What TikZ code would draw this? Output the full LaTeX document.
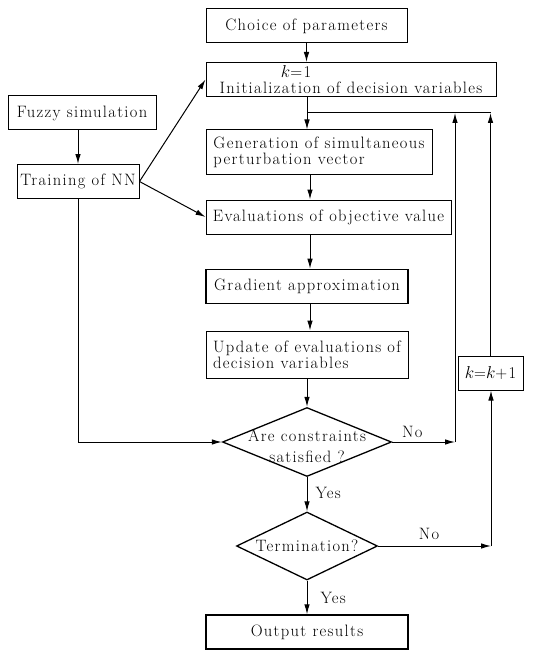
\documentclass[tikz,border=0pt]{standalone}
\usepackage{fontspec}
\usepackage{tikz}
\usetikzlibrary{positioning,shapes.geometric,arrows.meta}

\newfontfamily\flowfont{Latin Modern Roman}[LetterSpace=8]

\begin{document}
\begin{tikzpicture}[
    x=1pt, y=-1pt,
    every node/.style={font=\flowfont\fontsize{16.5}{16}\selectfont},
    box/.style={draw, rectangle, line width=1pt, inner sep=2pt, minimum height=34pt},
    decision/.style={draw, diamond, line width=1.3pt, inner sep=0pt},
    arrow/.style={-{Latex[length=10pt,width=5.5pt]}, line width=1pt},
    answer/.style={inner sep=2pt}
]
\useasboundingbox (0,0) rectangle (537,650);

% Main column
\node[box, minimum width=201pt] (choice) at (306.5,26) {Choice of parameters};
\node[box, minimum width=290pt, align=center, inner sep=0.5pt,
      font=\flowfont\fontsize{16.5}{16}\selectfont] (init) at (351,79.5)
    {$k$=1\hspace*{110pt}\\Initialization of decision variables};
\node[box, minimum width=226pt, minimum height=44pt, align=left] (gen) at (319,152)
    {Generation of simultaneous\\perturbation vector};
\node[box, minimum width=245pt] (eval) at (328.5,217) {Evaluations of objective value};
\node[box, minimum width=202pt, line width=1.6pt] (grad) at (307,286.5) {Gradient approximation};
\node[box, minimum width=202pt, minimum height=47pt, align=left] (update) at (307,354.5)
    {Update of evaluations of\\decision variables};

% Decisions
\node[decision, minimum width=169pt, minimum height=69pt] (cons) at (307,442) {};
\node[align=center, font=\flowfont\fontsize{16.5}{21}\selectfont] at (307,446) {Are constraints\\satisfied ?};
\node[decision, minimum width=141pt, minimum height=68pt] (term) at (307,546) {};
\node at (term) {Termination?};
\node[box, minimum width=202pt, line width=1.3pt] (output) at (307,632) {Output results};

% Left side
\node[box, minimum width=148pt] (fuzzy) at (82,113) {Fuzzy simulation};
\node[box, minimum width=122pt] (training) at (78,181.5) {Training of NN};

% Right side
\node[box, minimum width=65pt] (kinc) at (490.5,373) {$k$=$k$+1};

% Helper points
\coordinate (loop) at (307,113);
\coordinate (loopend) at (491,113);
\coordinate (midcol) at (310,0);
\coordinate (nobend) at (455,442);
\coordinate (termbend) at (491,546);

% Connectors
\draw[arrow] (choice.south) -- (choice.south |- init.north);
\draw[arrow] (init.south -| loop) -- (loop |- gen.north);
\draw[line width=1pt] (loop) -- (loopend);
\draw[arrow] (gen.south -| midcol) -- (eval.north -| midcol);
\draw[arrow] (eval.south -| midcol) -- (grad.north -| midcol);
\draw[arrow] (grad.south -| midcol) -- (update.north -| midcol);
\draw[arrow] (update.south -| cons) -- (cons.north);
\draw[arrow] (cons.south) -- node[answer, right, xshift=6pt, pos=0.45] {Yes} (term.north);
\draw[arrow] (term.south) -- node[answer, right, xshift=11pt] {Yes} (output.north);

\draw[arrow] (fuzzy.south -| training) -- (training.north);
\draw[arrow] (training.east) -- (init.west);
\draw[arrow] (training.east) -- (eval.west);
\draw[arrow] (training.south) |- (cons.west);

\draw[arrow] (cons.east) -- node[answer, above, pos=0.32, inner sep=4pt] {No} (nobend);
\draw[arrow] (nobend) -- (nobend |- loop);
\draw[arrow] (term.east) -- node[answer, above, pos=0.45, inner sep=6pt] {No} (termbend);
\draw[arrow] (termbend) -- (termbend |- kinc.south);
\draw[arrow] (kinc.north) -- (kinc.north |- loopend);

\end{tikzpicture}
\end{document}
